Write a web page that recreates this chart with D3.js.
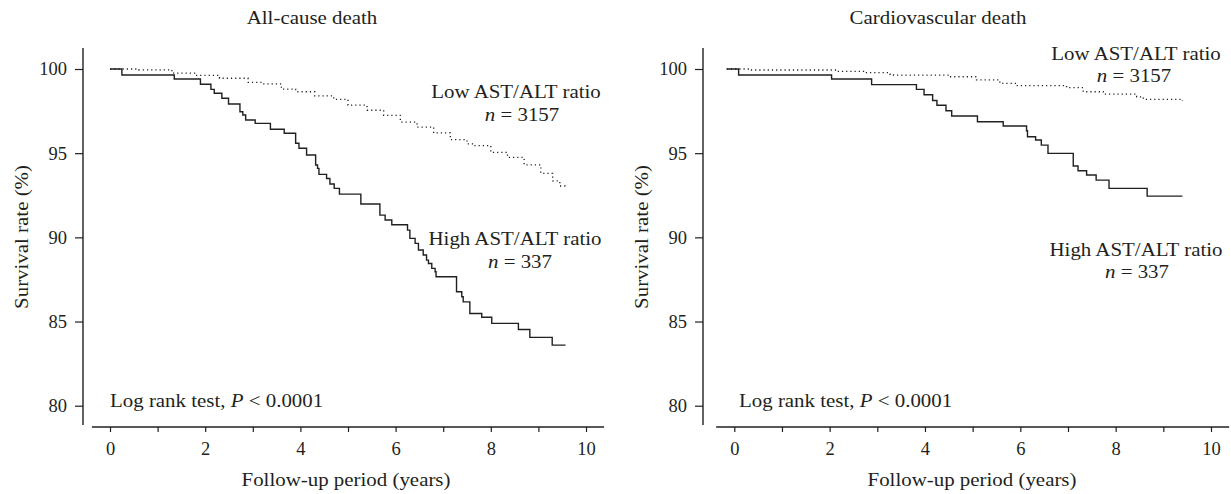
<!DOCTYPE html>
<html>
<head>
<meta charset="utf-8">
<script src="https://cdn.jsdelivr.net/npm/d3@7"></script>
<style>
  html, body { margin: 0; padding: 0; background: #fff; }
  svg text { font-family: "Liberation Serif", "DejaVu Serif", serif; fill: #231f20; }
</style>
</head>
<body>
<svg id="chart" width="1231" height="494"></svg>
<script>
// ---------- DATA ----------
const panelTitles = ["All-cause death", "Cardiovascular death"];
const xTicks = [0, 1, 2, 3, 4, 5, 6, 7, 8, 9, 10];
const xTickLabels = ["0", "", "2", "", "4", "", "6", "", "8", "", "10"];
const yTicks = [80, 85, 90, 95, 100];
const yTickLabels = ["80", "85", "90", "95", "100"];
const xAxisTitle = "Follow-up period (years)";
const yAxisTitle = "Survival rate (%)";
const groupNames = ["Low AST/ALT ratio", "High AST/ALT ratio"];
const groupN = ["3157", "337"];
const testText = "Log rank test, ";

// All-cause death: [years, survival %]
const allCauseHigh = [[0,100],[0.25,99.64],[1.35,99.41],[1.90,99.09],[2.12,98.79],[2.19,98.56],[2.35,98.26],[2.49,97.92],[2.73,97.46],[2.79,97.27],[2.85,96.97],[3.05,96.77],[3.37,96.42],[3.66,96.18],[3.90,95.59],[3.97,95.29],[4.13,94.89],[4.32,94.30],[4.36,94.10],[4.39,93.74],[4.55,93.50],[4.62,93.17],[4.71,92.91],[4.82,92.57],[5.27,91.98],[5.67,91.32],[5.78,91.03],[5.92,90.75],[6.25,90.43],[6.30,89.94],[6.41,89.64],[6.48,89.25],[6.58,88.95],[6.65,88.65],[6.69,88.45],[6.76,88.16],[6.83,87.96],[6.85,87.66],[7.28,86.77],[7.39,86.47],[7.42,86.17],[7.56,85.48],[7.81,85.25],[8.02,84.89],[8.58,84.53],[8.82,84.06],[9.29,83.60],[9.57,83.60]];
const allCauseLow = [[0,100],[0.6,99.95],[1.3,99.75],[1.8,99.62],[2.3,99.45],[2.9,99.2],[3.2,99.12],[3.6,98.8],[3.9,98.65],[4.3,98.4],[4.7,98.2],[5.0,97.85],[5.4,97.55],[5.75,97.25],[6.1,96.85],[6.45,96.55],[6.8,96.2],[7.15,95.8],[7.5,95.55],[7.65,95.45],[8.0,95.05],[8.35,94.75],[8.7,94.3],[9.05,93.8],[9.3,93.35],[9.45,93.05],[9.56,93.0]];

// Cardiovascular death
const cvHigh = [[0,100],[0.25,99.64],[2.20,99.41],[3.04,99.07],[3.98,98.79],[4.14,98.47],[4.32,98.13],[4.41,97.85],[4.60,97.52],[4.72,97.21],[5.26,96.87],[5.80,96.61],[6.29,96.33],[6.31,95.98],[6.48,95.78],[6.60,95.48],[6.74,94.99],[7.27,94.24],[7.37,93.96],[7.55,93.70],[7.75,93.40],[8.02,92.91],[8.82,92.45],[9.56,92.45]];
const cvLow = [[0,100],[0.5,99.94],[2.31,99.86],[2.9,99.78],[3.42,99.70],[3.5,99.64],[4.68,99.54],[5.24,99.35],[5.73,99.15],[6.08,99.01],[7.13,98.89],[7.48,98.65],[7.90,98.51],[8.60,98.35],[8.74,98.2],[9.56,98.1]];

// ---------- LAYOUT ----------
const svg = d3.select("#chart");
const FS = 18.5;     // tick labels
const FT = 19;       // other text
const SX = 1.1;      // horizontal stretch of the reference typeface
const y = d3.scaleLinear().domain([80, 100]).range([405.7, 69]);

function stretchedText(parent, x, yPos, anchor, rotate) {
  return parent.append("text")
    .attr("transform", `translate(${x},${yPos})${rotate ? " rotate(-90)" : ""} scale(${SX},1)`)
    .attr("text-anchor", anchor)
    .style("font-size", FT + "px");
}

const panels = [
  { title: panelTitles[0], xr: [110, 586], yAxisX: 83, titleX: 312, xTitleX: 346, yTitleX: 21,
    high: allCauseHigh, low: allCauseLow, curveShift: 0,
    lowLbl: [516, 98, 522, 121], highLbl: [515, 245, 520, 268], testX: 110 },
  { title: panelTitles[1], xr: [734.3, 1211], yAxisX: 703, titleX: 938, xTitleX: 972, yTitleX: 641,
    high: cvHigh, low: cvLow, curveShift: -7.6,
    lowLbl: [1136, 60, 1134, 82], highLbl: [1136, 256, 1137, 278], testX: 739 }
];

panels.forEach(p => {
  const x = d3.scaleLinear().domain([0, 10]).range(p.xr);
  const g = svg.append("g");

  // title
  stretchedText(g, p.titleX, 24, "middle").text(p.title);

  // y axis
  const yAx = g.append("g").attr("transform", `translate(${p.yAxisX},0)`)
    .call(d3.axisLeft(y).tickValues(yTicks).tickFormat((d, i) => yTickLabels[i]).tickSize(8).tickPadding(8));
  yAx.select(".domain").remove();
  yAx.selectAll("line").attr("stroke", "#231f20").attr("stroke-width", 1.2);
  yAx.selectAll("text").style("font-size", FS + "px").attr("fill", "#231f20").style("font-family", '"Liberation Serif", serif');
  g.append("line").attr("x1", p.yAxisX).attr("x2", p.yAxisX)
    .attr("y1", y(101.25)).attr("y2", y(78.85)).attr("stroke", "#231f20").attr("stroke-width", 1.4);

  // x axis
  const xAxY = 427;
  const xAx = g.append("g").attr("transform", `translate(0,${xAxY})`)
    .call(d3.axisBottom(x).tickValues(xTicks).tickFormat((d, i) => xTickLabels[i]).tickSize(5).tickPadding(10));
  xAx.select(".domain").remove();
  xAx.selectAll("line").attr("stroke", "#231f20").attr("stroke-width", 1.2);
  xAx.selectAll("text").style("font-size", FS + "px").attr("fill", "#231f20").style("font-family", '"Liberation Serif", serif');
  g.append("line").attr("x1", x(-0.38)).attr("x2", x(10.38))
    .attr("y1", xAxY).attr("y2", xAxY).attr("stroke", "#231f20").attr("stroke-width", 1.4);

  // axis titles
  stretchedText(g, p.xTitleX, 486, "middle").text(xAxisTitle);
  stretchedText(g, p.yTitleX, 237, "middle", true).attr("dy", "0.35em").text(yAxisTitle);

  // curves
  const line = d3.line().x(d => x(d[0])).y(d => y(d[1])).curve(d3.curveStepAfter);
  const cg = g.append("g").attr("transform", `translate(${p.curveShift},0)`);
  cg.append("path").datum(p.low).attr("d", line).attr("fill", "none")
    .attr("stroke", "#231f20").attr("stroke-width", 1.3).attr("stroke-dasharray", "1.2,3");
  cg.append("path").datum(p.high).attr("d", line).attr("fill", "none")
    .attr("stroke", "#231f20").attr("stroke-width", 1.4);

  // group labels
  const lbl = (arr, name, n) => {
    stretchedText(g, arr[0], arr[1], "middle").text(name);
    const t = stretchedText(g, arr[2], arr[3], "middle");
    t.append("tspan").style("font-style", "italic").text("n");
    t.append("tspan").text(" = " + n);
  };
  lbl(p.lowLbl, groupNames[0], groupN[0]);
  lbl(p.highLbl, groupNames[1], groupN[1]);

  // log rank text
  const tt = stretchedText(g, p.testX, 407, "start");
  tt.append("tspan").text(testText);
  tt.append("tspan").style("font-style", "italic").text("P");
  tt.append("tspan").text(" < 0.0001");
});
</script>
</body>
</html>
